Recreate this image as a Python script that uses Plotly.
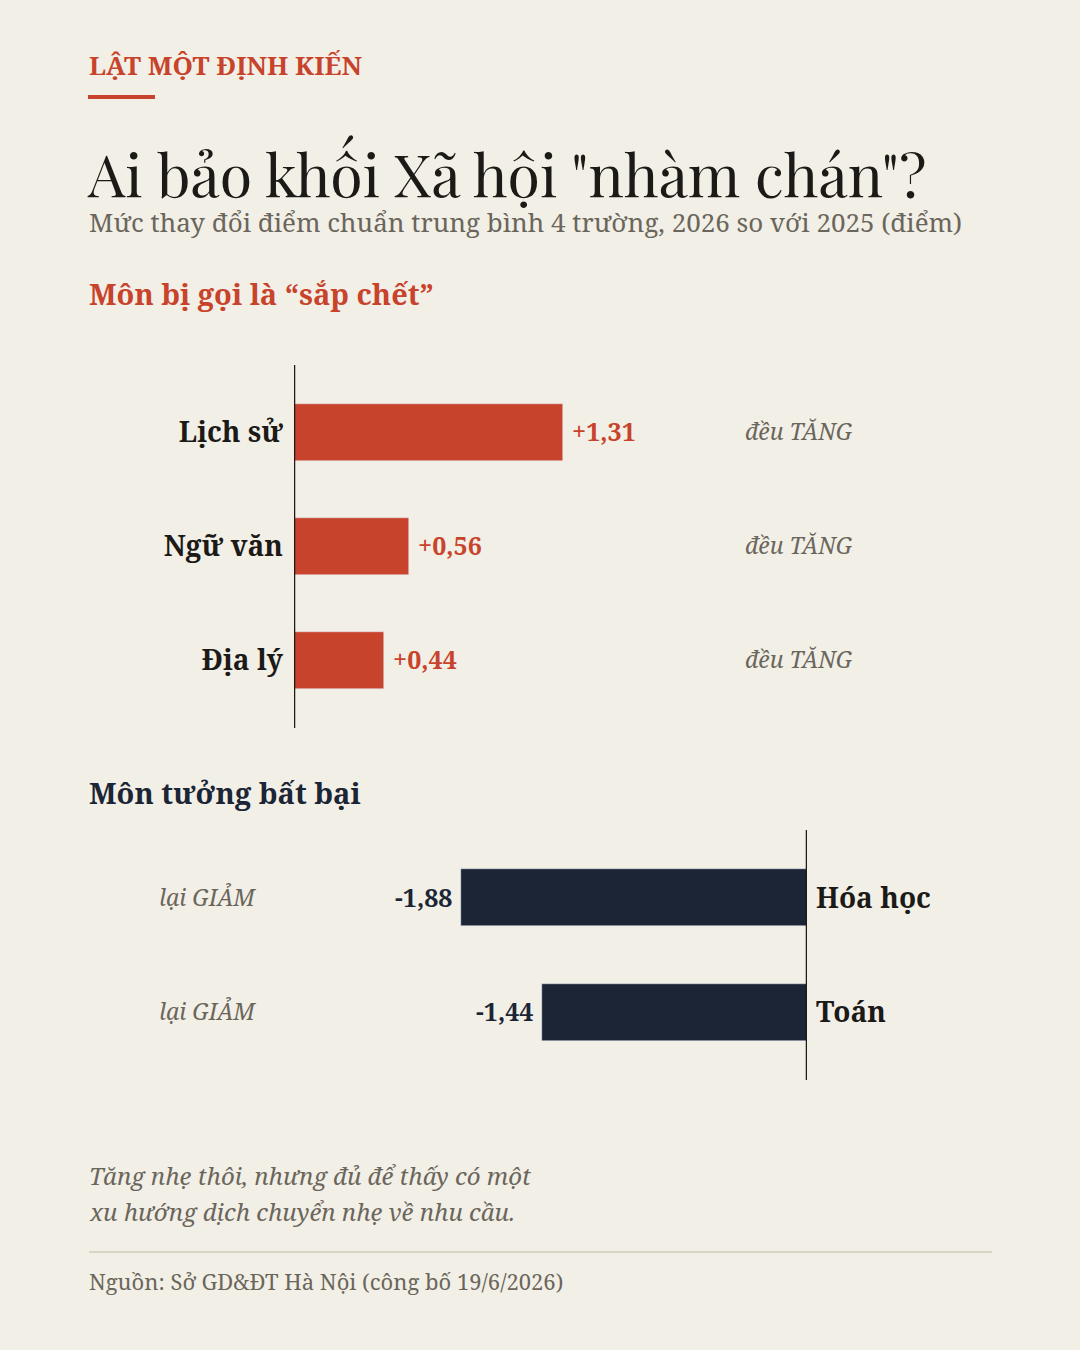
import plotly.graph_objects as go

# ---- data ----
up_subjects = ["Lịch sử", "Ngữ văn", "Địa lý"]
up_values = [1.31, 0.56, 0.44]
up_labels = ["+1,31", "+0,56", "+0,44"]
up_note = "đều TĂNG"

down_subjects = ["Hóa học", "Toán"]
down_values = [-1.88, -1.44]
down_labels = ["-1,88", "-1,44"]
down_note = "lại GIẢM"

W, H = 1080, 1350
BG = "#f2efe7"
RED = "#c8432b"
NAVY = "#1b2535"
INK = "#1c1a17"
GRAY = "#6b665b"
SERIF = "Noto Serif, DejaVu Serif, serif"
TITLEF = "Playfair Display, Liberation Serif, serif"


def py(px):
    return 1 - px / H


def pxx(px):
    return px / W


fig = go.Figure()

up_idx = list(range(len(up_subjects)))
down_idx = list(range(len(down_subjects)))

fig.add_trace(go.Bar(x=up_values, y=up_idx, orientation="h", marker_color=RED,
                     width=0.5, xaxis="x", yaxis="y", showlegend=False, hoverinfo="skip"))
fig.add_trace(go.Bar(x=down_values, y=down_idx, orientation="h", marker_color=NAVY,
                     width=0.5, xaxis="x2", yaxis="y2", showlegend=False, hoverinfo="skip"))

# top axes: zero at 294 px, ~205 px per unit
x1_l, x1_r = 294, 880
k1 = 205.3
# bottom axes: zero at 807 px, ~184 px per unit
x2_l, x2_r = 200, 807
k2 = 184.0

fig.update_layout(
    width=W, height=H, paper_bgcolor=BG, plot_bgcolor="rgba(0,0,0,0)",
    margin=dict(l=0, r=0, t=0, b=0), bargap=0,
    xaxis=dict(domain=[pxx(x1_l), pxx(x1_r)], range=[0, (x1_r - x1_l) / k1],
               visible=False, fixedrange=True),
    yaxis=dict(domain=[py(728), py(365)], range=[len(up_idx) - 1 + 0.596, -0.588],
               tickmode="array", tickvals=up_idx, ticktext=up_subjects,
               tickfont=dict(family=SERIF, size=28, color=INK, weight="bold"),
               showgrid=False, zeroline=False, showline=False, ticks="",
               ticklabelstandoff=10, anchor="x"),
    xaxis2=dict(domain=[pxx(x2_l), pxx(x2_r)], range=[-(x2_r - x2_l) / k2, 0],
                visible=False, fixedrange=True, anchor="y2"),
    yaxis2=dict(domain=[py(1080), py(830)], range=[len(down_idx) - 1 + 0.596, -0.596],
                tickmode="array", tickvals=down_idx, ticktext=down_subjects,
                tickfont=dict(family=SERIF, size=28, color=INK, weight="bold"),
                showgrid=False, zeroline=False, showline=False, ticks="",
                side="right", ticklabelstandoff=8, anchor="x2"),
)

shapes = [
    dict(type="line", xref="x", yref="y domain", x0=0, x1=0, y0=0, y1=1,
         line=dict(color=INK, width=2.5)),
    dict(type="line", xref="x2", yref="y2 domain", x0=0, x1=0, y0=0, y1=1,
         line=dict(color=INK, width=2.5)),
    dict(type="line", xref="paper", yref="paper", x0=pxx(88), x1=pxx(155), y0=py(97), y1=py(97),
         line=dict(color=RED, width=4)),
    dict(type="line", xref="paper", yref="paper", x0=pxx(89), x1=pxx(992), y0=py(1252), y1=py(1252),
         line=dict(color="#d9d3c5", width=2)),
]
fig.update_layout(shapes=shapes)

ann = []


def txt(x, y, text, size, color, bold=False, italic=False, family=SERIF, xanchor="left"):
    ann.append(dict(xref="paper", yref="paper", x=pxx(x), y=py(y), text=text, showarrow=False,
                    xanchor=xanchor, yanchor="middle",
                    font=dict(family=family, size=size, color=color,
                              weight="bold" if bold else "normal",
                              style="italic" if italic else "normal")))


txt(87, 65, "LẬT MỘT ĐỊNH KIẾN", 26, RED, bold=True)
txt(85, 173, "Ai bảo khối Xã hội \"nhàm chán\"?", 59, INK, family=TITLEF)
txt(87, 222, "Mức thay đổi điểm chuẩn trung bình 4 trường, 2026 so với 2025 (điểm)", 26, GRAY)
txt(87, 293, "Môn bị gọi là “sắp chết”", 29, RED, bold=True)
txt(87, 792, "Môn tưởng bất bại", 29, NAVY, bold=True)
txt(87, 1175, "Tăng nhẹ thôi, nhưng đủ để thấy có một", 24, GRAY, italic=True)
txt(87, 1211, "xu hướng dịch chuyển nhẹ về nhu cầu.", 24, GRAY, italic=True)
txt(87, 1281, "Nguồn: Sở GD&ĐT Hà Nội (công bố 19/6/2026)", 22, GRAY)

for i, (v, lab) in enumerate(zip(up_values, up_labels)):
    ann.append(dict(xref="x", yref="y", x=v, y=i, text=lab, showarrow=False,
                    xanchor="left", yanchor="middle", xshift=7, yshift=1,
                    font=dict(family=SERIF, size=25, color=RED, weight="bold")))
    ann.append(dict(xref="paper", yref="y", x=pxx(743), y=i, text=up_note, showarrow=False,
                    xanchor="left", yanchor="middle", yshift=1,
                    font=dict(family=SERIF, size=23, color=GRAY, style="italic")))

for i, (v, lab) in enumerate(zip(down_values, down_labels)):
    ann.append(dict(xref="x2", yref="y2", x=v, y=i, text=lab, showarrow=False,
                    xanchor="right", yanchor="middle", xshift=-7, yshift=1,
                    font=dict(family=SERIF, size=25, color=NAVY, weight="bold")))
    ann.append(dict(xref="paper", yref="y2", x=pxx(157), y=i, text=down_note, showarrow=False,
                    xanchor="left", yanchor="middle", yshift=1,
                    font=dict(family=SERIF, size=23, color=GRAY, style="italic")))

fig.update_layout(annotations=ann)
fig.write_html("out.html")
